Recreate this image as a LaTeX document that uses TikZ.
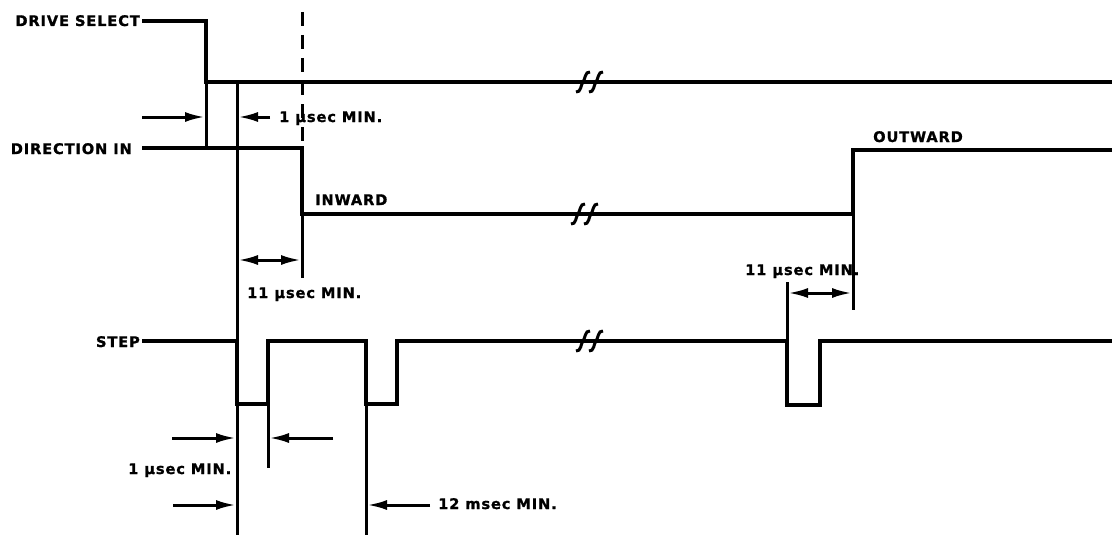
\documentclass[tikz,border=0pt]{standalone}
\usepackage{fontspec}
\setmainfont[LetterSpace=6, BoldFeatures={FakeBold=1.2}]{DejaVu Sans}
\usetikzlibrary{arrows.meta}
\tikzset{
  sig/.style={line width=3.3pt, line join=miter, line cap=butt},
  ext/.style={line width=3pt},
  tip/.tip={Latex[length=20pt,width=10pt]},
  dim/.style={line width=3pt, -tip},
  ddim/.style={line width=3pt, tip-tip},
  lbl/.style={inner sep=0pt, text height=10pt, text depth=0pt,
    font=\bfseries\fontsize{14.6}{16}\selectfont},
  brk/.style={line width=3pt}
}
\newcommand{\brkmark}[2]{%
  \draw[brk] (#1-7,#2+10) .. controls (#1-2,#2+11) and (#1-2,#2+2) .. (#1,#2)
    .. controls (#1+2,#2-2) and (#1+2,#2-11) .. (#1+7,#2-10);}
\begin{document}
\begin{tikzpicture}[x=1pt,y=-1pt]
\useasboundingbox (0,0) rectangle (1115,535);

% labels
\node[lbl, anchor=east] (ds) at (140,21) {DRIVE SELECT};
\node[lbl, anchor=east] (dir) at (132,149) {DIRECTION IN};
\node[lbl, anchor=east] (st) at (140,342) {STEP};
\node[lbl, anchor=west] (l1) at (279,117) {1 µsec MIN.};
\node[lbl, anchor=west] (inw) at (315,200) {INWARD};
\node[lbl, anchor=west] (l11a) at (247,293) {11 µsec MIN.};
\node[lbl, anchor=west] (outw) at (873,137) {OUTWARD};
\node[lbl, anchor=west] (l11b) at (745,270) {11 µsec MIN.};
\node[lbl, anchor=west] (l1b) at (128,469) {1 µsec MIN.};
\node[lbl, anchor=west] (l12) at (438,504) {12 msec MIN.};

% DRIVE SELECT
\coordinate (ds0) at (142,21);
\coordinate (ds1) at (206,21);
\coordinate (ds2) at (206,82);
\coordinate (ds3) at (1112,82);
\draw[sig] (ds0) -- (ds1) -- (ds2) -- (ds3);
\brkmark{583}{82}\brkmark{596}{82}

% dashed reference
\coordinate (dsh0) at (302,12);
\coordinate (dsh1) at (302,143);
\draw[ext, dash pattern=on 14pt off 9pt] (dsh0) -- (dsh1);

% DIRECTION IN
\coordinate (di0) at (142,148);
\coordinate (di1) at (302,148);
\coordinate (di2) at (302,214);
\coordinate (di3) at (853,214);
\coordinate (di4) at (853,150);
\coordinate (di5) at (1112,150);
\draw[sig] (di0) -- (di1) -- (di2) -- (di3) -- (di4) -- (di5);
\brkmark{578}{214}\brkmark{591}{214}

% STEP
\coordinate (s0) at (142,341);
\coordinate (s1) at (237,341);
\coordinate (s2) at (237,404);
\coordinate (s3) at (268,404);
\coordinate (s4) at (268,341);
\coordinate (s5) at (366,341);
\coordinate (s6) at (366,404);
\coordinate (s7) at (397,404);
\coordinate (s8) at (397,341);
\coordinate (s9) at (787,341);
\coordinate (s10) at (787,405);
\coordinate (s11) at (820,405);
\coordinate (s12) at (820,341);
\coordinate (s13) at (1112,341);
\draw[sig] (s0) -- (s1) -- (s2) -- (s3) -- (s4) -- (s5) -- (s6) -- (s7) -- (s8)
  -- (s9) -- (s10) -- (s11) -- (s12) -- (s13);
\brkmark{583}{341}\brkmark{596}{341}

% extension lines
\coordinate (e237b) at (237,535);
\draw[ext] (ds2) -- (206,148);
\draw[ext] (237,82) -- (e237b);
\coordinate (e302) at (302,278);
\draw[ext] (di2) -- (e302);
\coordinate (e268) at (268,468);
\draw[ext] (s3) -- (e268);
\coordinate (e366) at (366,535);
\draw[ext] (s6) -- (e366);
\coordinate (e853) at (853,310);
\draw[ext] (di3) -- (e853);
\coordinate (e787) at (787,282);
\draw[ext] (e787) -- (s9);

% dimension arrows
\coordinate (a1s) at (142,117); \coordinate (a1e) at (205,117);
\coordinate (a2s) at (270,117); \coordinate (a2e) at (238,117);
\draw[dim] (a1s) -- (a1e);
\draw[dim] (a2s) -- (a2e);
\coordinate (b1) at (238,260); \coordinate (b2) at (301,260);
\draw[ddim] (b1) -- (b2);
\coordinate (c1) at (788,293); \coordinate (c2) at (852,293);
\draw[ddim] (c1) -- (c2);
\coordinate (d1s) at (172,438); \coordinate (d1e) at (236,438);
\coordinate (d2s) at (333,438); \coordinate (d2e) at (269,438);
\draw[dim] (d1s) -- (d1e);
\draw[dim] (d2s) -- (d2e);
\coordinate (f1s) at (173,505); \coordinate (f1e) at (236,505);
\coordinate (f2s) at (430,505); \coordinate (f2e) at (367,505);
\draw[dim] (f1s) -- (f1e);
\draw[dim] (f2s) -- (f2e);
\end{tikzpicture}
\end{document}
